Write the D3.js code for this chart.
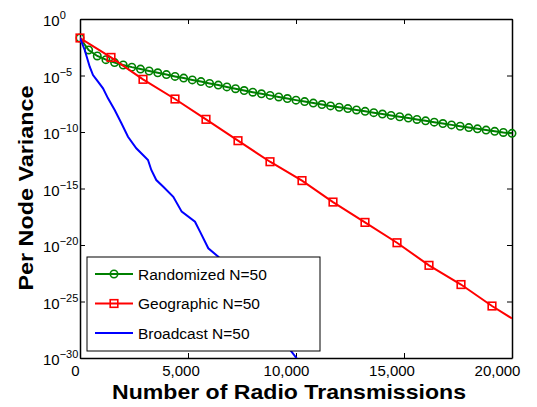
<!DOCTYPE html>
<html>
<head>
<meta charset="utf-8">
<script src="https://cdn.jsdelivr.net/npm/d3@7"></script>
<style>
  body { margin: 0; background: #fff; }
  text { font-family: "Liberation Sans", Arial, Helvetica, sans-serif; }
</style>
</head>
<body>
<div id="chart"></div>
<script>
// x = radio transmissions, values stored as log10(variance)
const randX = [0, 400, 800, 1200, 1600, 2000, 2400, 2800, 3200, 3600, 4000, 4400, 4800, 5200, 5600,
  6000, 6400, 6800, 7200, 7600, 8000, 8400, 8800, 9200, 9600, 10000, 10400, 10800, 11200, 11600,
  12000, 12400, 12800, 13200, 13600, 14000, 14400, 14800, 15200, 15600, 16000, 16400, 16800, 17200,
  17600, 18000, 18400, 18800, 19200, 19600, 20000];
const randLog = [-1.68, -2.74, -3.27, -3.60, -3.86, -4.07, -4.26, -4.43, -4.60, -4.76, -4.92, -5.08,
  -5.23, -5.39, -5.54, -5.70, -5.85, -6.01, -6.17, -6.33, -6.48, -6.62, -6.76, -6.90, -7.04, -7.18,
  -7.31, -7.44, -7.57, -7.69, -7.81, -7.93, -8.05, -8.17, -8.29, -8.41, -8.53, -8.65, -8.77, -8.89,
  -9.01, -9.13, -9.25, -9.37, -9.49, -9.61, -9.72, -9.83, -9.94, -10.04, -10.12];

const geoX = [0, 1435, 2917, 4398, 5833, 7315, 8796, 10278, 11713, 13194, 14676, 16157, 17639, 19074, 20000];
const geoLog = [-1.68, -3.40, -5.34, -7.08, -8.88, -10.77, -12.63, -14.30, -16.20, -18.00, -19.80,
  -21.80, -23.50, -25.40, -26.50];

const bcastX = [0, 218, 449, 602, 833, 1065, 1296, 1606, 1912, 2222, 2606, 2917, 3148, 3301, 3532,
  3856, 4319, 4708, 5324, 5556, 5940, 6403, 7870, 8800, 10032, 10700];
const bcastLog = [-1.68, -2.74, -4.22, -4.96, -5.55, -6.13, -7.02, -8.05, -9.20, -10.42, -11.44,
  -12.04, -12.48, -13.36, -14.25, -14.84, -15.73, -17.05, -17.94, -18.82, -20.29, -21.04, -24.67,
  -26.98, -30.03, -31.60];

const seriesNames = ["Randomized N=50", "Geographic N=50", "Broadcast N=50"];
const xTicks = [0, 5000, 10000, 15000, 20000];
const yTickExps = [0, -5, -10, -15, -20, -25, -30];

const margin = { top: 19, right: 25, bottom: 49, left: 80 };
const W = 537, H = 407;
const width = W - margin.left - margin.right;
const height = H - margin.top - margin.bottom;

const svg = d3.select("#chart").append("svg")
  .attr("width", W)
  .attr("height", H);

const g = svg.append("g").attr("transform", `translate(${margin.left},${margin.top})`);

const x = d3.scaleLinear().domain([0, 20000]).range([0, width]);
const y = d3.scaleLog().domain([1e-30, 1]).range([height, 0]);

const toPts = (xs, ls) => xs.map((v, i) => ({ x: v, y: Math.pow(10, ls[i]) }));
const rand = toPts(randX, randLog);
const geo = toPts(geoX, geoLog);
const bcast = toPts(bcastX, bcastLog);

const line = d3.line().x(d => x(d.x)).y(d => y(d.y));

svg.append("defs").append("clipPath").attr("id", "clip")
  .append("rect").attr("width", width).attr("height", height);

// axes, ticks point inward on all four sides
const yVals = yTickExps.map(e => Math.pow(10, e));
const styleAxis = sel => {
  sel.select(".domain").attr("stroke", "#000").attr("stroke-width", 1.5);
  sel.selectAll(".tick line").attr("stroke", "#000");
};

g.append("g").attr("transform", `translate(0,${height})`)
  .call(d3.axisBottom(x).tickValues(xTicks).tickSizeInner(-5).tickSizeOuter(0).tickFormat(d3.format(",")))
  .call(styleAxis)
  .call(a => a.selectAll("text")
    .attr("font-size", 15).attr("fill", "#000")
    .attr("y", 18).attr("dy", 0)
    .attr("dx", d => -5 - d / 2000));

g.append("g").call(d3.axisTop(x).tickValues(xTicks).tickSizeInner(-5).tickSizeOuter(0).tickFormat(""))
  .call(styleAxis);

const yAxis = g.append("g")
  .call(d3.axisLeft(y).tickValues(yVals).tickSizeInner(-5).tickSizeOuter(0).tickFormat(""))
  .call(styleAxis);

const yLab = yAxis.selectAll(".tick").append("text")
  .attr("x", 43 - margin.left)
  .attr("y", 6.5)
  .attr("text-anchor", "start")
  .attr("fill", "#000")
  .attr("font-size", 15);
yLab.append("tspan").text("10");
yLab.append("tspan")
  .attr("font-size", 11)
  .attr("dy", -7)
  .text((d, i) => yTickExps[i] < 0 ? "\u2212" + (-yTickExps[i]) : yTickExps[i]);

g.append("g").attr("transform", `translate(${width},0)`)
  .call(d3.axisRight(y).tickValues(yVals).tickSizeInner(-5).tickSizeOuter(0).tickFormat(""))
  .call(styleAxis);

// axis titles
svg.append("text")
  .attr("x", 289)
  .attr("y", 399)
  .attr("text-anchor", "middle")
  .attr("font-size", 21)
  .attr("font-weight", "bold")
  .attr("textLength", 354)
  .attr("lengthAdjust", "spacingAndGlyphs")
  .text("Number of Radio Transmissions");

svg.append("text")
  .attr("transform", "translate(33,188) rotate(-90)")
  .attr("text-anchor", "middle")
  .attr("font-size", 21)
  .attr("font-weight", "bold")
  .attr("textLength", 205)
  .attr("lengthAdjust", "spacingAndGlyphs")
  .text("Per Node Variance");

// series
const green = "#008000", red = "#ff0000", blue = "#0000ff";

g.append("path").datum(rand)
  .attr("clip-path", "url(#clip)")
  .attr("fill", "none").attr("stroke", green).attr("stroke-width", 2)
  .attr("d", line);
g.selectAll(".rand-pt").data(rand).join("circle")
  .attr("class", "rand-pt")
  .attr("cx", d => x(d.x)).attr("cy", d => y(d.y)).attr("r", 3.7)
  .attr("fill", "none").attr("stroke", green).attr("stroke-width", 1.6);

g.append("path").datum(geo)
  .attr("clip-path", "url(#clip)")
  .attr("fill", "none").attr("stroke", red).attr("stroke-width", 2)
  .attr("d", line);
g.selectAll(".geo-pt").data(geo.slice(0, -1)).join("rect")
  .attr("class", "geo-pt")
  .attr("x", d => x(d.x) - 3.8).attr("y", d => y(d.y) - 3.8)
  .attr("width", 7.6).attr("height", 7.6)
  .attr("fill", "none").attr("stroke", red).attr("stroke-width", 1.6);

g.append("path").datum(bcast)
  .attr("clip-path", "url(#clip)")
  .attr("fill", "none").attr("stroke", blue).attr("stroke-width", 2)
  .attr("d", line);

// legend
const legend = svg.append("g").attr("transform", "translate(87,257)");
legend.append("rect")
  .attr("width", 233).attr("height", 94)
  .attr("fill", "#fff").attr("stroke", "#000").attr("stroke-width", 1);

const colors = [green, red, blue];
seriesNames.forEach((name, i) => {
  const row = legend.append("g").attr("transform", `translate(0,${17 + i * 29.5})`);
  row.append("line")
    .attr("x1", 8).attr("x2", 46)
    .attr("stroke", colors[i]).attr("stroke-width", 2);
  if (i === 0) {
    row.append("circle").attr("cx", 27).attr("r", 3.7)
      .attr("fill", "none").attr("stroke", green).attr("stroke-width", 1.6);
  } else if (i === 1) {
    row.append("rect").attr("x", 23.2).attr("y", -3.8).attr("width", 7.6).attr("height", 7.6)
      .attr("fill", "none").attr("stroke", red).attr("stroke-width", 1.6);
  }
  row.append("text")
    .attr("x", 51).attr("y", 5.5)
    .attr("font-size", 15.5)
    .text(name);
});
</script>
</body>
</html>
